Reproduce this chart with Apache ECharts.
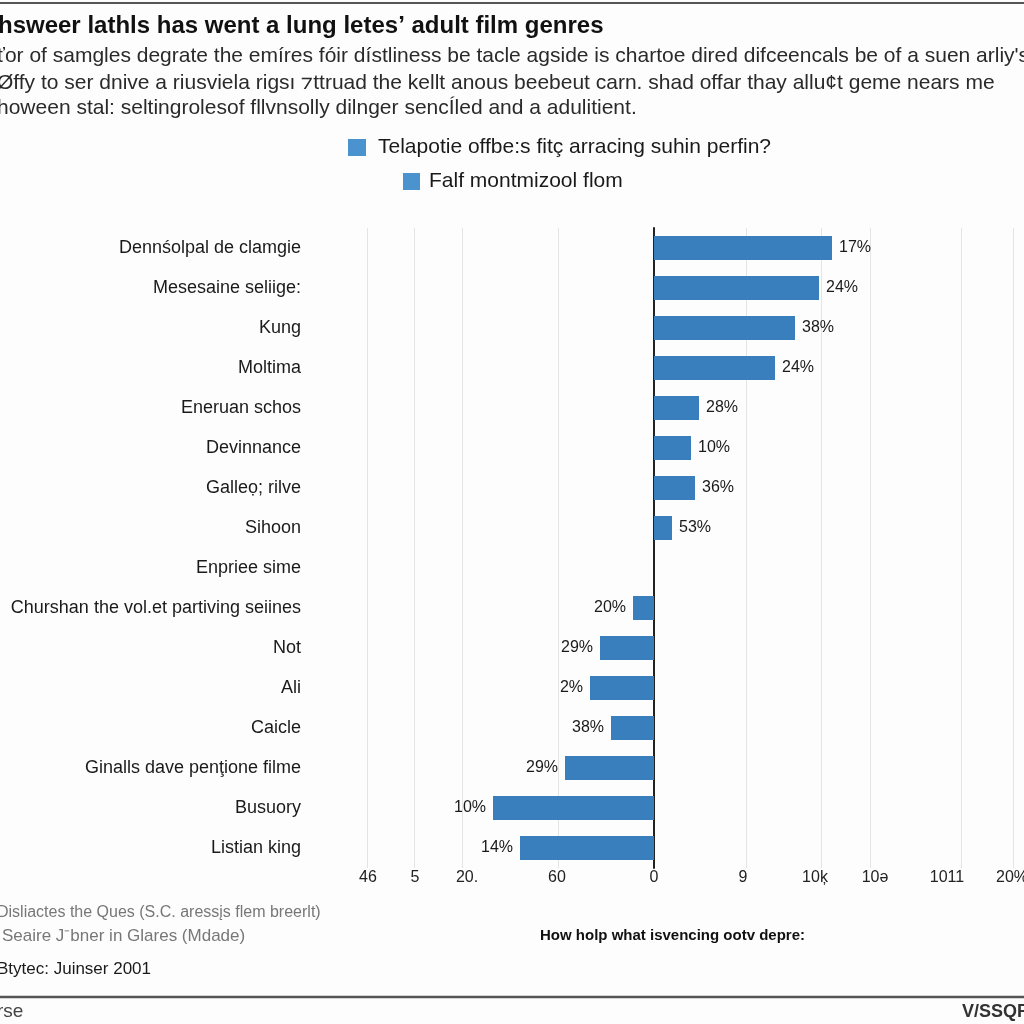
<!DOCTYPE html>
<html>
<head>
<meta charset="utf-8">
<script src="https://cdn.jsdelivr.net/npm/echarts@6/dist/echarts.min.js"></script>
<style>
html,body{margin:0;padding:0;background:#fdfdfd;}
#chart{width:1024px;height:1024px;}
</style>
</head>
<body>
<div id="chart"></div>
<script>
// ---- data ----
var categories = [
  "Dennśolpal de clamgie",
  "Mesesaine seliige:",
  "Kung",
  "Moltima",
  "Eneruan schos",
  "Devinnance",
  "Galleọ; rilve",
  "Sihoon",
  "Enpriee sime",
  "Churshan the vol.et partiving seiines",
  "Not",
  "Ali",
  "Caicle",
  "Ginalls dave penţione filme",
  "Busuory",
  "Listian king"
];
var barValues = [178, 165, 141, 121, 45, 37, 41, 18, 0, -21, -54, -64, -43, -89, -161, -134];
var valueLabels = ["17%", "24%", "38%", "24%", "28%", "10%", "36%", "53%", "", "20%", "29%", "2%", "38%", "29%", "10%", "14%"];
var tickValues = [-287, -240, -192, -96, 0, 92, 167, 216, 307, 359];
var tickLabelValues = [-286, -239, -187, -97, 0, 89, 161, 221, 293, 358];
var tickLabels = ["46", "5", "20.", "60", "0", "9", "10ķ", "10ə", "1011", "20%"];
var seriesNames = ["Telapotie offbe:s fitç arracing suhin perfin?", "Falf montmizool flom"];

// ---- chart ----
var chart = echarts.init(document.getElementById('chart'));
var FONT = '"Liberation Sans", Arial, sans-serif';

var barData = barValues.map(function (v) {
  return {
    value: v,
    label: { position: v < 0 ? 'left' : 'right' }
  };
});

var option = {
  backgroundColor: '#fdfdfd',
  animation: false,
  legend: [
    {
      data: [{ name: seriesNames[0], itemStyle: { color: '#4b93cf' } }],
      left: 348, top: 137, padding: 0,
      icon: 'rect', itemWidth: 18, itemHeight: 17,
      textStyle: { fontFamily: FONT, fontSize: 21, color: '#1a1a1a', padding: [0, 0, 0, 7] }
    },
    {
      data: [{ name: seriesNames[1], itemStyle: { color: '#4b93cf' } }],
      left: 403, top: 171, padding: 0,
      icon: 'rect', itemWidth: 17, itemHeight: 17,
      textStyle: { fontFamily: FONT, fontSize: 21, color: '#1a1a1a', padding: [0, 0, 0, 4] }
    }
  ],
  grid: { left: 367, right: 11, top: 228, bottom: 156, containLabel: false, outerBoundsMode: 'none' },
  xAxis: {
    type: 'value',
    min: -287, max: 359,
    axisLine: { show: false },
    axisTick: { show: false, customValues: tickValues },
    splitLine: { show: true, lineStyle: { color: '#e4e4e4', width: 1 } },
    axisLabel: {
      customValues: tickLabelValues,
      margin: 2,
      hideOverlap: false,
      fontFamily: FONT, fontSize: 16, color: '#222',
      formatter: function (v) {
        var i = tickLabelValues.indexOf(v);
        return i >= 0 ? tickLabels[i] : '';
      }
    }
  },
  yAxis: {
    type: 'category',
    inverse: true,
    data: categories,
    axisLine: { show: true, onZero: true, lineStyle: { color: '#222', width: 2 } },
    axisTick: { show: false },
    axisLabel: {
      margin: 66,
      fontFamily: FONT, fontSize: 18, color: '#1a1a1a'
    }
  },
  series: [
    {
      name: seriesNames[0],
      type: 'bar',
      stack: 'one',
      barWidth: 24,
      itemStyle: { color: '#3a7fbd' },
      label: {
        show: true,
        distance: 7,
        fontFamily: FONT, fontSize: 16, color: '#1a1a1a',
        formatter: function (p) { return valueLabels[p.dataIndex]; }
      },
      data: barData
    },
    {
      name: seriesNames[1],
      type: 'bar',
      stack: 'one',
      barWidth: 24,
      itemStyle: { color: '#4b93cf' },
      data: []
    }
  ],
  graphic: [
    { type: 'line', shape: { x1: 0, y1: 3, x2: 1024, y2: 3 }, style: { stroke: '#555', lineWidth: 2 } },
    { type: 'text', x: -2, y: 26, style: { text: "hsweer lathls has went a lung letes’ adult film genres", font: 'bold 24px ' + FONT, fill: '#111', textVerticalAlign: 'middle' } },
    { type: 'text', x: -3, y: 56, style: { text: "ťor of samgles degrate the emíres fóir dístliness be tacle agside is chartoe dired difceencals be of a suen arliy's", font: '21px ' + FONT, fill: '#2a2a2a', textVerticalAlign: 'middle' } },
    { type: 'text', x: -3, y: 83, style: { text: "Øffy to ser dnive a riusviela rigsı ⁊ttruad the kellt anous beebeut carn. shad offar thay allu¢t geme nears me", font: '21px ' + FONT, fill: '#2a2a2a', textVerticalAlign: 'middle' } },
    { type: 'text', x: -3, y: 108, style: { text: "hoween stal: seltingrolesof fllvnsolly dilnger sencÍled and a adulitient.", font: '21px ' + FONT, fill: '#2a2a2a', textVerticalAlign: 'middle' } },
    { type: 'text', x: -3, y: 913, style: { text: "Disliactes the Ques (S.C. aressįs flem breerlt)", font: '16px ' + FONT, fill: '#777', textVerticalAlign: 'middle' } },
    { type: 'text', x: 2, y: 936, style: { text: "Seaire J⁻bner in Glares (Mdade)", font: '17px ' + FONT, fill: '#777', textVerticalAlign: 'middle' } },
    { type: 'text', x: -3, y: 969, style: { text: "Btytec: Juinser 2001", font: '17px ' + FONT, fill: '#1a1a1a', textVerticalAlign: 'middle' } },
    { type: 'text', x: 540, y: 936, style: { text: "How holp what isvencing ootv depre:", font: 'bold 15px ' + FONT, fill: '#111', textVerticalAlign: 'middle' } },
    { type: 'line', shape: { x1: 0, y1: 997, x2: 1024, y2: 997 }, style: { stroke: '#555', lineWidth: 2.5 } },
    { type: 'text', x: -3, y: 1012, style: { text: "rse", font: '19px ' + FONT, fill: '#444', textVerticalAlign: 'middle' } },
    { type: 'text', x: 962, y: 1012, style: { text: "V/SSQR", font: 'bold 18px ' + FONT, fill: '#333', textVerticalAlign: 'middle' } }
  ]
};
chart.setOption(option);
</script>
</body>
</html>
